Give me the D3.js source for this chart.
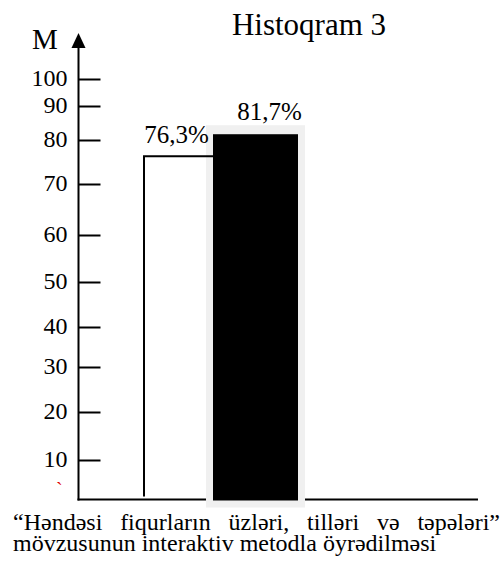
<!DOCTYPE html>
<html>
<head>
<meta charset="utf-8">
<script src="https://cdn.jsdelivr.net/npm/d3@7/dist/d3.min.js"></script>
<style>
  html, body { margin: 0; padding: 0; background: #fff; }
  svg text { font-family: 'Liberation Serif', 'Times New Roman', 'DejaVu Serif', serif !important; }
</style>
</head>
<body>
<svg id="chart" width="504" height="563"></svg>
<script>
// ---- data ----
const categories = ["I", "II"];
const values = [76.3, 81.7];
const valueLabels = ["76,3%", "81,7%"];
const tickValues = [10, 20, 30, 40, 50, 60, 70, 80, 90, 100];
const tickLabels = ["10", "20", "30", "40", "50", "60", "70", "80", "90", "100"];
const yAxisTitle = "M";
const chartTitle = "Histoqram 3";
const captionLine1 = ["\u201CHəndəsi", "fiqurların", "üzləri,", "tilləri", "və", "təpələri\u201D"];
const captionLine2 = "mövzusunun interaktiv metodla öyrədilməsi";
const strayMark = "`";

// ---- layout ----
const svg = d3.select("#chart");
const axisX = 78.5;
const baseY = 499.5;

// hand-drawn axis: irregular tick spacing, reproduced with a polylinear scale
const y = d3.scaleLinear()
  .domain([0, 10, 20, 30, 40, 50, 60, 70, 80, 90, 100])
  .range([baseY, 460, 412, 367, 327, 282, 235, 184, 140, 106, 79]);

const x = d3.scaleBand().domain(categories).range([144, 298]).padding(0);

// title
svg.append("text")
  .attr("x", 309).attr("y", 35)
  .attr("text-anchor", "middle")
  .attr("font-size", 31)
  .text(chartTitle);

// y axis title
svg.append("text")
  .attr("x", 32).attr("y", 49)
  .attr("font-size", 29)
  .text(yAxisTitle);

// y axis line + arrow
svg.append("line")
  .attr("x1", axisX).attr("x2", axisX)
  .attr("y1", 46).attr("y2", baseY + 1)
  .attr("stroke", "#000").attr("stroke-width", 2);
svg.append("path")
  .attr("d", `M${axisX},33 L${axisX - 7},48 L${axisX + 7},48 Z`)
  .attr("fill", "#000");

// ticks via d3 axis
const axisG = svg.append("g")
  .attr("transform", `translate(${axisX},0)`)
  .call(d3.axisRight(y).tickValues(tickValues).tickSize(22)
        .tickFormat((d, i) => tickLabels[i]));
axisG.attr("font-family", null);
axisG.select(".domain").remove();
axisG.selectAll(".tick line").attr("stroke", "#000").attr("stroke-width", 2);
axisG.selectAll(".tick text")
  .attr("x", -11).attr("dy", "0.27em")
  .attr("text-anchor", "end")
  .attr("fill", "#000")
  .attr("font-size", 24);

// stray red mark
svg.append("text")
  .attr("x", 56).attr("y", 497)
  .attr("font-size", 20)
  .attr("fill", "#e00000")
  .text(strayMark);

// bars
const bw = x.bandwidth();
const blackX = x(categories[1]) - 8;
const blackW = bw + 8;
const whiteX = x(categories[0]);
const whiteTop = y(values[0]);

// x axis line
svg.append("line")
  .attr("x1", axisX - 1).attr("x2", 478)
  .attr("y1", baseY).attr("y2", baseY)
  .attr("stroke", "#000").attr("stroke-width", 2);

// light gray frame behind the black bar
svg.append("rect")
  .attr("x", blackX - 7).attr("y", y(values[1]) - 9)
  .attr("width", blackW + 14).attr("height", baseY + 8 - (y(values[1]) - 9))
  .attr("fill", "#f0f0f0");

// white bar outline (left and top edges; right edge hidden behind the black bar)
const outline = d3.path();
outline.moveTo(whiteX, baseY - 3);
outline.lineTo(whiteX, whiteTop);
outline.lineTo(blackX, whiteTop);
svg.append("path")
  .attr("d", outline.toString())
  .attr("fill", "none").attr("stroke", "#000").attr("stroke-width", 2);

// black bar
svg.append("rect")
  .attr("x", blackX).attr("y", y(values[1]))
  .attr("width", blackW).attr("height", baseY + 1 - y(values[1]))
  .attr("fill", "#000");

// value labels
svg.append("text")
  .attr("x", whiteX + bw / 2 - 6).attr("y", whiteTop - 13)
  .attr("text-anchor", "middle").attr("font-size", 25)
  .text(valueLabels[0]);
svg.append("text")
  .attr("x", blackX + blackW / 2 + 14).attr("y", y(values[1]) - 14)
  .attr("text-anchor", "middle").attr("font-size", 25)
  .text(valueLabels[1]);

// caption line 1 (justified)
const capSize = 24;
const l1Left = 13, l1Right = 500, l1Y = 530;
const words = svg.append("g").selectAll("text")
  .data(captionLine1).join("text")
  .attr("y", l1Y).attr("font-size", capSize)
  .text(d => d);
const widths = [];
words.each(function () { widths.push(this.getComputedTextLength()); });
const totalW = d3.sum(widths);
const gap = (l1Right - l1Left - totalW) / (captionLine1.length - 1);
let cx = l1Left;
words.each(function (d, i) {
  d3.select(this).attr("x", cx);
  cx += widths[i] + gap;
});

// caption line 2
svg.append("text")
  .attr("x", l1Left).attr("y", 551)
  .attr("font-size", capSize)
  .text(captionLine2);
</script>
</body>
</html>
